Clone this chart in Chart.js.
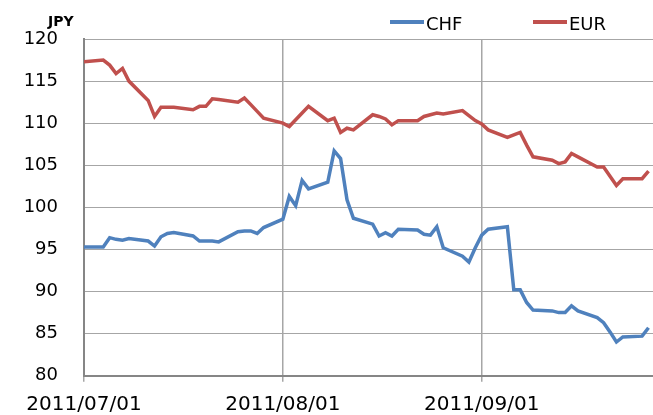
<!DOCTYPE html>
<html>
<head>
<meta charset="utf-8">
<script src="https://cdn.jsdelivr.net/npm/chart.js@4/dist/chart.umd.min.js"></script>
<style>
  body { margin: 0; background: #fff; }
  #wrap { width: 653px; height: 415px; }
</style>
</head>
<body>
<div id="wrap"><canvas id="fx" width="653" height="415"></canvas></div>
<script>
// Trading days, counted as days since 2011/07/01.
const tradeDays = [0, 3, 4, 5, 6, 7, 10, 11, 12, 13, 14, 17, 18, 19, 20, 21,
  24, 25, 26, 27, 28, 31, 32, 33, 34, 35, 38, 39, 40, 41, 42, 45, 46, 47, 48, 49,
  52, 53, 54, 55, 56, 59, 60, 61, 62, 63, 66, 67, 68, 69, 70, 73, 74, 75, 76, 77,
  80, 81, 82, 83, 84, 87, 88];

const chfValues = [95.3, 95.3, 96.4, 96.2, 96.1, 96.3, 96.0, 95.4, 96.5, 96.9, 97.0, 96.6, 96.0, 96.0, 96.0, 95.9,
  97.1, 97.2, 97.2, 96.9, 97.6, 98.6, 101.3, 100.2, 103.2, 102.2, 103.0, 106.7, 105.8, 100.9, 98.7, 98.0, 96.6, 97.0, 96.6, 97.4,
  97.3, 96.8, 96.7, 97.7, 95.2, 94.2, 93.5, 95.2, 96.7, 97.4, 97.7, 90.2, 90.2, 88.7, 87.8, 87.7, 87.5, 87.5, 88.3, 87.7,
  86.9, 86.3, 85.2, 84.0, 84.6, 84.7, 85.7];

const eurValues = [117.3, 117.5, 116.9, 115.9, 116.5, 115.0, 112.7, 110.8, 111.9, 111.9, 111.9, 111.6, 112.0, 112.0, 112.9, 112.8,
  112.5, 113.0, 112.2, 111.4, 110.6, 110.0, 109.6, 110.4, 111.2, 112.0, 110.3, 110.6, 108.9, 109.4, 109.2, 111.0, 110.8, 110.5, 109.8, 110.3,
  110.3, 110.8, 111.0, 111.2, 111.1, 111.5, 110.9, 110.3, 109.9, 109.2, 108.3, 108.6, 108.9, 107.4, 106.0, 105.6, 105.2, 105.4, 106.4, 106.0,
  104.8, 104.8, 103.7, 102.6, 103.4, 103.4, 104.3];

const tickDays = [0, 31, 62];
const tickLabels = ['2011/07/01', '2011/08/01', '2011/09/01'];

const FONT = 'DejaVu Sans';

// Draws the "JPY" unit label and the line legend in the top right.
const extras = {
  id: 'extras',
  afterDraw(chart) {
    const ctx = chart.ctx;
    ctx.save();
    ctx.fillStyle = '#000';
    ctx.textBaseline = 'alphabetic';
    ctx.font = 'bold 14px ' + FONT;
    ctx.fillText('JPY', 48, 26);

    const starts = [390, 533];
    ctx.font = '18px ' + FONT;
    chart.data.datasets.forEach((ds, i) => {
      const x = starts[i];
      ctx.strokeStyle = ds.borderColor;
      ctx.lineWidth = 4;
      ctx.beginPath();
      ctx.moveTo(x, 22);
      ctx.lineTo(x + 34, 22);
      ctx.stroke();
      ctx.fillText(ds.label, x + 36, 29.5);
    });
    ctx.restore();
  }
};

const toPoints = (vals) => vals.map((v, i) => ({ x: tradeDays[i], y: v }));

new Chart(document.getElementById('fx'), {
  type: 'line',
  data: {
    datasets: [
      {
        label: 'CHF',
        data: toPoints(chfValues),
        borderColor: '#4F81BD',
        borderWidth: 3.5,
        pointRadius: 0,
        tension: 0
      },
      {
        label: 'EUR',
        data: toPoints(eurValues),
        borderColor: '#C0504D',
        borderWidth: 3.5,
        pointRadius: 0,
        tension: 0
      }
    ]
  },
  options: {
    responsive: false,
    animation: false,
    layout: { padding: { top: 39, left: 0, right: 0, bottom: 0 } },
    plugins: {
      legend: { display: false },
      tooltip: { enabled: false }
    },
    scales: {
      x: {
        type: 'linear',
        min: 0,
        max: 88.7,
        afterBuildTicks: (s) => { s.ticks = tickDays.map(v => ({ value: v })); },
        afterFit: (s) => { s.height = 39.3; },
        ticks: {
          autoSkip: false,
          maxRotation: 0,
          padding: 13,
          color: '#000',
          font: { family: FONT, size: 20, lineHeight: 1 },
          callback: (v) => tickLabels[tickDays.indexOf(v)]
        },
        grid: { color: '#a6a6a6', lineWidth: 1.5, tickLength: 6 },
        border: { display: true, color: '#868686', width: 2 }
      },
      y: {
        min: 80,
        max: 120,
        afterFit: (s) => { s.width = 84; },
        ticks: {
          stepSize: 5,
          padding: 26,
          color: '#000',
          font: { family: FONT, size: 18 }
        },
        grid: { color: '#a6a6a6', lineWidth: 1, drawTicks: false },
        border: { display: true, color: '#868686', width: 2 }
      }
    }
  },
  plugins: [extras]
});
</script>
</body>
</html>
